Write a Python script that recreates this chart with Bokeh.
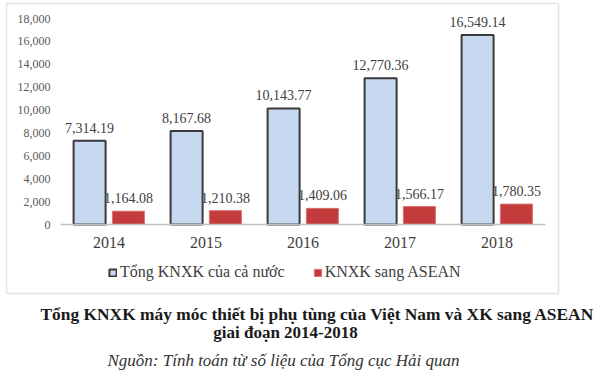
from bokeh.plotting import figure
from bokeh.models import (FactorRange, Range1d, ColumnDataSource, LabelSet, Label,
                          Legend, LegendItem, BoxAnnotation, NumeralTickFormatter, FixedTicker)
from bokeh.transform import dodge
from bokeh.core.properties import value
from bokeh.embed import file_html
from bokeh.resources import INLINE

# ---- data ----
years = ["2014", "2015", "2016", "2017", "2018"]
total = [7314.19, 8167.68, 10143.77, 12770.36, 16549.14]
asean = [1164.08, 1210.38, 1409.06, 1566.17, 1780.35]
y_ticks = [0, 2000, 4000, 6000, 8000, 10000, 12000, 14000, 16000, 18000]
series_names = ["Tổng KNXK của cả nước", "KNXK sang ASEAN"]
title_line1 = "Tổng KNXK máy móc thiết bị phụ tùng của Việt Nam và XK sang ASEAN"
title_line2 = "giai đoạn 2014-2018"
source_note = "Nguồn: Tính toán từ số liệu của Tổng cục Hải quan"

src = ColumnDataSource(dict(
    year=years, total=total, asean=asean,
    total_lbl=[f"{v:,.2f}" for v in total],
    asean_lbl=[f"{v:,.2f}" for v in asean],
))

# ---- layout constants (pixels) ----
W, H = 600, 373
FRAME_LEFT = 5
PLOT_TOP, PLOT_BOTTOM = 18, 224          # pixel rows of 18,000 and 0
PX_PER_UNIT = (PLOT_BOTTOM - PLOT_TOP) / 18000
CAT_PX = 97                               # width of one category

y_start = -(H - PLOT_BOTTOM) / PX_PER_UNIT
y_end = PLOT_BOTTOM / PX_PER_UNIT
n = len(years)
pad = ((W - FRAME_LEFT) / CAT_PX) / n - 1


def sx(px):
    return px - FRAME_LEFT


def sy(py):
    return H - py


SERIF = "Liberation Serif"

p = figure(width=W, height=H,
           x_range=FactorRange(factors=years, range_padding=pad, range_padding_units="percent"),
           y_range=Range1d(y_start, y_end), output_backend="svg", toolbar_location=None,
           min_border_left=FRAME_LEFT, min_border_right=0, min_border_top=0, min_border_bottom=0,
           background_fill_color="white", border_fill_color="white")

r1 = p.vbar(x=dodge("year", -0.2, range=p.x_range), top="total", width=0.33, source=src,
            fill_color="#c6d9f0", line_color="#3a3a3a", line_width=2)
r2 = p.vbar(x=dodge("year", 0.2, range=p.x_range), top="asean", width=0.33, source=src,
            fill_color="#c43b3b", line_color="#d97070", line_width=1)

for xo, col in ((-0.2, "total"), (0.2, "asean")):
    p.add_layout(LabelSet(x=dodge("year", xo, range=p.x_range), y=col, text=col + "_lbl",
                          source=src, y_offset=8, text_align="center",
                          text_baseline="alphabetic",
                          text_font=value(SERIF), text_font_size=value("14px"),
                          text_color="#404040"))

p.xgrid.grid_line_color = None
p.ygrid.grid_line_color = None
p.outline_line_color = None

p.yaxis.fixed_location = 0
p.yaxis.ticker = FixedTicker(ticks=y_ticks)
p.yaxis.formatter = NumeralTickFormatter(format="0,0")
p.yaxis.axis_line_color = None
p.yaxis.major_tick_line_color = None
p.yaxis.minor_tick_line_color = None
p.yaxis.major_tick_out = 0
p.yaxis.major_tick_in = 0
p.yaxis.major_label_standoff = 10
p.yaxis.major_label_text_font = SERIF
p.yaxis.major_label_text_font_size = "12px"
p.yaxis.major_label_text_color = "#595959"

p.xaxis.fixed_location = 0
p.xaxis.bounds = (0, n)
p.xaxis.axis_line_color = "#bfbfbf"
p.xaxis.axis_line_width = 1.5
p.xaxis.major_tick_line_color = None
p.xaxis.major_tick_out = 0
p.xaxis.major_tick_in = 0
p.xaxis.major_label_standoff = 12
p.xaxis.major_label_text_font = SERIF
p.xaxis.major_label_text_font_size = "16px"
p.xaxis.major_label_text_color = "#404040"

legend = Legend(items=[LegendItem(label=series_names[0], renderers=[r1]),
                       LegendItem(label=series_names[1], renderers=[r2])],
                orientation="horizontal", location=(sx(108), sy(281)),
                padding=0, margin=0, spacing=28, label_standoff=3,
                glyph_width=9, glyph_height=9, border_line_color=None,
                background_fill_alpha=0, label_text_font=SERIF,
                label_text_font_size="16px", label_text_color="#404040")
p.add_layout(legend, "center")

p.add_layout(BoxAnnotation(left=sx(6), right=sx(558), top=sy(3), bottom=sy(293),
                           left_units="screen", right_units="screen",
                           top_units="screen", bottom_units="screen",
                           fill_color=None, fill_alpha=0, line_color="#a6a6a6", line_width=1.5))

p.add_layout(Label(x=sx(317), y=sy(313), x_units="screen", y_units="screen", text=title_line1,
                   text_align="center", text_baseline="middle", text_font=SERIF,
                   text_font_style="bold", text_font_size="17.4px", text_color="#1a1a1a"))
p.add_layout(Label(x=sx(285), y=sy(332), x_units="screen", y_units="screen", text=title_line2,
                   text_align="center", text_baseline="middle", text_font=SERIF,
                   text_font_style="bold", text_font_size="17px", text_color="#1a1a1a"))
p.add_layout(Label(x=sx(283), y=sy(360), x_units="screen", y_units="screen", text=source_note,
                   text_align="center", text_baseline="middle", text_font=SERIF,
                   text_font_style="italic", text_font_size="17px", text_color="#333333"))

open("out.html", "w").write(file_html(p, INLINE))
